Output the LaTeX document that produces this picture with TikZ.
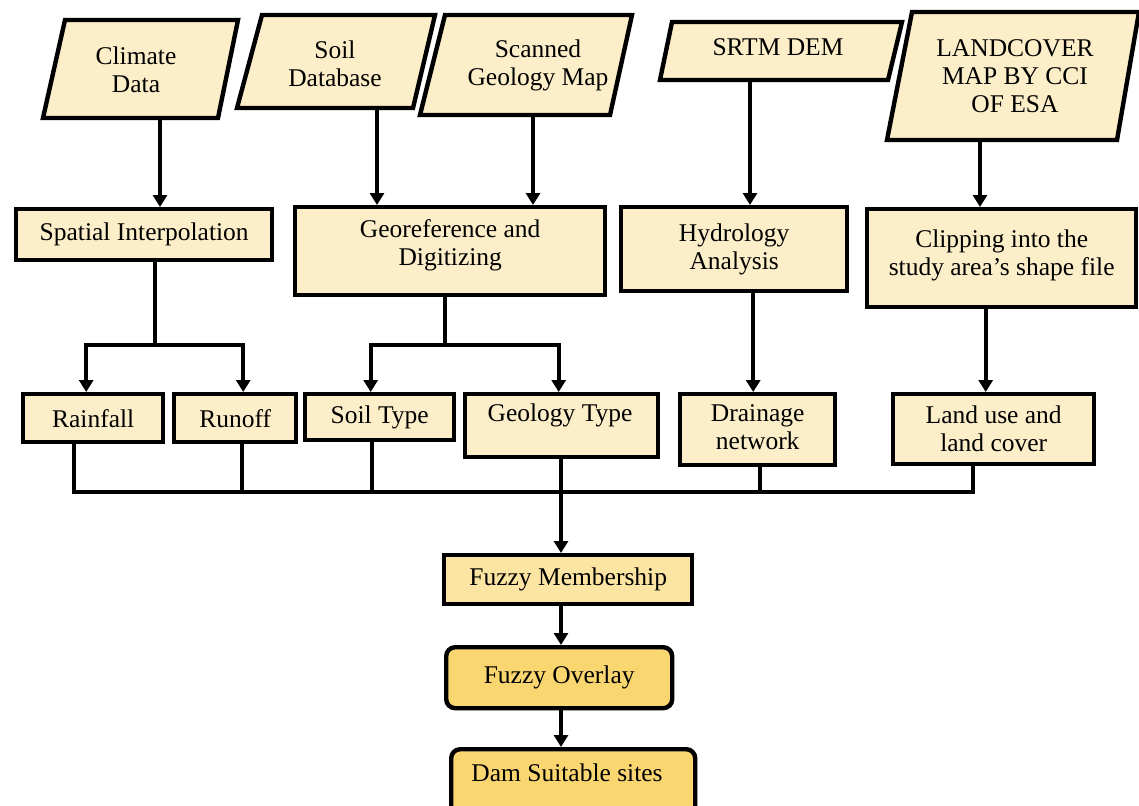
\documentclass[tikz,border=0pt]{standalone}
\usepackage{fontspec}
\setmainfont{Liberation Serif}
\usetikzlibrary{arrows.meta}
\definecolor{cream}{RGB}{252,238,200}
\definecolor{fmfill}{RGB}{252,228,162}
\definecolor{gold}{RGB}{250,214,112}
\tikzset{
  box/.style={draw, line width=4.4pt, fill=cream, inner sep=0pt, anchor=north west, align=center, font=\fontsize{25.5}{28}\selectfont},
  para/.style={draw, line width=4.4pt, fill=cream, line join=miter},
  txt/.style={align=center, font=\fontsize{25.5}{28}\selectfont, inner sep=0pt},
  ln/.style={line width=3.8pt},
  arr/.style={line width=3.8pt, -{Triangle[length=12pt,width=14pt]}},
}
\begin{document}
\begin{tikzpicture}[x=1pt,y=-1pt]
\useasboundingbox (0,0) rectangle (1139,805);
% input parallelograms
\draw[para] (65,20)--(238,20)--(218,118)--(43,118)--cycle;
\node[txt] (climate) at (136,70) {Climate\\Data};
\coordinate (climateB) at (160,118);
\draw[para] (262,15)--(435,15)--(413,108)--(237,108)--cycle;
\node[txt] (soil) at (335,64) {Soil\\Database};
\coordinate (soilB) at (377,108);
\draw[para] (445,15)--(632,15)--(610,115)--(420,115)--cycle;
\node[txt] (scan) at (538,65) {Scanned\\Geology Map};
\coordinate (scanB) at (533,115);
\draw[para] (672,22)--(902,22)--(888,80)--(660,80)--cycle;
\node[txt] (srtm) at (778,47) {SRTM DEM};
\coordinate (srtmB) at (750,80);
\draw[para] (912,12)--(1139,12)--(1117,140)--(887,140)--cycle;
\node[txt] (land) at (1015,76) {LANDCOVER\\MAP BY CCI\\OF ESA};
\coordinate (landB) at (980,140);
% processing boxes
\node[box, minimum width=256, minimum height=51] (spi) at (14,207) {Spatial Interpolation};
\node[box, minimum width=310, minimum height=88] (geor) at (293,205) {Georeference and\\Digitizing\\[-10pt]};
\node[box, minimum width=226, minimum height=84] (hyd) at (619,205) {Hydrology\\Analysis};
\node[box, minimum width=269, minimum height=98] (clip) at (865,207) {Clipping into the\\study area’s shape file\\[-16pt]};
\draw[arr] (climateB) -- (climateB |- spi.north);
\draw[arr] (soilB) -- (soilB |- geor.north);
\draw[arr] (scanB) -- (scanB |- geor.north);
\draw[arr] (srtmB) -- (srtmB |- hyd.north);
\draw[arr] (landB) -- (landB |- clip.north);
% layers
\node[box, minimum width=140, minimum height=48] (rain) at (21,392) {Rainfall};
\node[box, minimum width=122, minimum height=48] (run) at (172,392) {Runoff};
\node[box, minimum width=149, minimum height=46] (stype) at (303,392) {Soil Type};
\node[box, minimum width=193, minimum height=63] (gtype) at (463,392) {};
\node[txt] (gtypeT) at (560,415) {Geology Type};
\node[box, minimum width=155, minimum height=71] (drain) at (678,392) {Drainage\\network\\[-22pt]};
\node[box, minimum width=201, minimum height=70] (luse) at (891,392) {Land use and\\land cover};
\coordinate (spiS) at (155,345);
\coordinate (georS) at (445,345);
\draw[ln] (spi.south -| spiS) -- (spiS);
\draw[arr] (spiS) -| ([xshift=-7]rain.north);
\draw[arr] (spiS) -| ([xshift=8]run.north);
\draw[ln] (geor.south -| georS) -- (georS);
\draw[arr] (georS) -| ([xshift=-9]stype.north);
\draw[arr] (georS) -| ([xshift=-3]gtype.north);
\draw[arr] ([xshift=19]hyd.south) -- ([xshift=19]hyd.south |- drain.north);
\draw[arr] ([xshift=-16]clip.south) -- ([xshift=-16]clip.south |- luse.north);
% bus
\coordinate (bus) at (561,492);
\draw[ln] ([xshift=-19]rain.south) |- (bus);
\draw[ln] ([xshift=7]run.south) -- ([xshift=7]run.south |- bus);
\draw[ln] ([xshift=-8]stype.south) -- ([xshift=-8]stype.south |- bus);
\draw[ln] ([xshift=2]drain.south) -- ([xshift=2]drain.south |- bus);
\draw[ln] ([xshift=-21]luse.south) |- (bus);
% fuzzy steps
\node[box, fill=fmfill, minimum width=248, minimum height=49] (fm) at (442,553) {Fuzzy Membership};
\node[box, fill=gold, rounded corners=9pt, minimum width=226, minimum height=61] (fo) at (444,645) {Fuzzy Overlay};
\node[box, fill=gold, rounded corners=9pt, minimum width=244, minimum height=72] (dam) at (449,747) {};
\node[txt] (damT) at (567,773) {Dam Suitable sites};
\draw[arr] (gtype.south -| bus) -- (bus |- fm.north);
\draw[arr] (bus |- fm.south) -- (bus |- fo.north);
\draw[arr] (bus |- fo.south) -- (bus |- dam.north);
\end{tikzpicture}
\end{document}
